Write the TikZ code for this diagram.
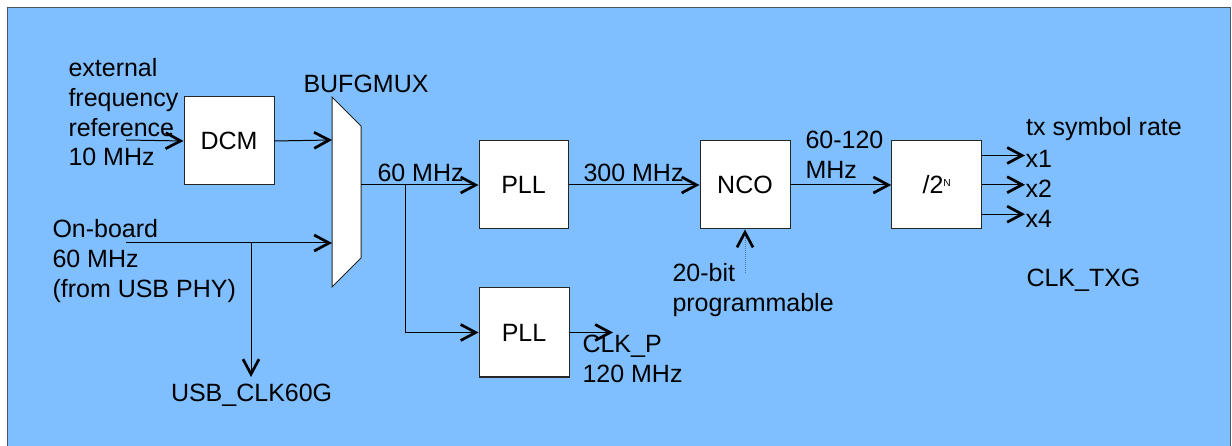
\documentclass[tikz,border=0pt]{standalone}
\usepackage{fontspec}
\newfontfamily\lsans{Liberation Sans}
\usetikzlibrary{arrows.meta}
\definecolor{bgblue}{HTML}{80BFFF}
\definecolor{framecol}{HTML}{4A5560}
\definecolor{dotcol}{HTML}{5A7090}
\begin{document}
\begin{tikzpicture}[x=1pt,y=-1pt,
  line width=1pt,
  blk/.style={draw=black!85, fill=white, line width=1pt, inner sep=0pt,
    font=\lsans\fontsize{25}{29.7}\selectfont},
  lbl/.style={inner sep=0pt, anchor=north west, align=left,
    font=\lsans\fontsize{25}{29.7}\selectfont,
    execute at begin node={\rule{0pt}{20pt}}},
  conn/.style={draw=black, -{Straight Barb[length=15pt,width=16pt,line width=2.7pt,color=black]}}]
\useasboundingbox (0,0) rectangle (1232,446);
\clip (0,0) rectangle (1232,446);
% background
\fill[bgblue] (7.3,7.3) rectangle (1230.5,460);
\draw[framecol] (7.3,460) -- (7.3,7.3) -- (1230.5,7.3) -- (1230.5,460);

% blocks
\node[blk, minimum width=90pt, minimum height=88pt] (dcm) at (229,141) {DCM};
\node[blk, minimum width=89pt, minimum height=88pt] (pll1) at (523.5,185) {PLL};
\node[blk, minimum width=90pt, minimum height=89pt] (pll2) at (524,332.5) {PLL};
\node[blk, minimum width=90pt, minimum height=88pt] (nco) at (745,185) {NCO};
\node[blk, minimum width=90pt, minimum height=88pt] (div) at (936.7,185)
  {/2\raisebox{7.7pt}{\fontsize{10.2}{12}\selectfont N}};

% mux
\draw[draw=black!85, fill=white] (332,97) -- (361,126) -- (361,258) -- (332,287) -- cycle;
\coordinate (muxin1) at (332,140);
\coordinate (muxin2) at (332,243);
\coordinate (muxout) at (361,185);

% labels
\node[lbl] (extlbl) at (68,58) {external\\frequency\\reference\\10 MHz};
\node[lbl] (oblbl) at (52,219) {On-board\\60 MHz\\(from USB PHY)};
\node[lbl] (muxlbl) at (303,72) {BUFGMUX};
\node[lbl] (l60) at (377,161) {60 MHz};
\node[lbl] (l300) at (583,161) {300 MHz};
\node[lbl] (lclkp) at (582,335) {CLK\_P\\120 MHz};
\node[lbl] (l20) at (672,263.3) {20-bit\\programmable};
\node[lbl] (l60120) at (805,130.7) {60-120\\MHz};
\node[lbl] (ltx) at (1025.7,115) {tx symbol rate};
\node[lbl] (lx1) at (1025,146.7) {x1};
\node[lbl] (lx2) at (1025,176.7) {x2};
\node[lbl] (lx4) at (1025,206.7) {x4};
\node[lbl] (ltxg) at (1026,265.7) {CLK\_TXG};
\node[lbl] (lusb) at (170.5,381) {USB\_CLK60G};

% connector endpoints
\coordinate (extin) at (126,140);
\coordinate (obin) at (126,243);
\coordinate (obbr) at (251,243);
\coordinate (usbend) at (251,377);
\coordinate (br60) at (405,185);
\coordinate (br60d) at (405,332.5);
\coordinate (clkpend) at (613,332.5);
\coordinate (o1) at (1025,155.5);
\coordinate (o2) at (1025,184.7);
\coordinate (o4) at (1025,214.2);
\coordinate (progsrc) at (745,273);

% connectors
\draw[conn] (extin) -- (dcm.west);
\draw[conn] (dcm.east) -- (muxin1);
\draw[conn] (obin) -- (muxin2);
\draw[conn] (obbr) -- (usbend);
\draw[conn] (muxout) -- (pll1.west);
\draw[conn] (br60) -- (br60d) -- (pll2.west);
\draw[conn] (pll2.east) -- (clkpend);
\draw[conn] (pll1.east) -- (nco.west);
\draw[conn] (nco.east) -- (div.west);
\draw[conn] (div.east |- o1) -- (o1);
\draw[conn] (div.east |- o2) -- (o2);
\draw[conn] (div.east |- o4) -- (o4);
\draw[conn, draw=dotcol, densely dotted] (progsrc) -- (nco.south);
\end{tikzpicture}
\end{document}
